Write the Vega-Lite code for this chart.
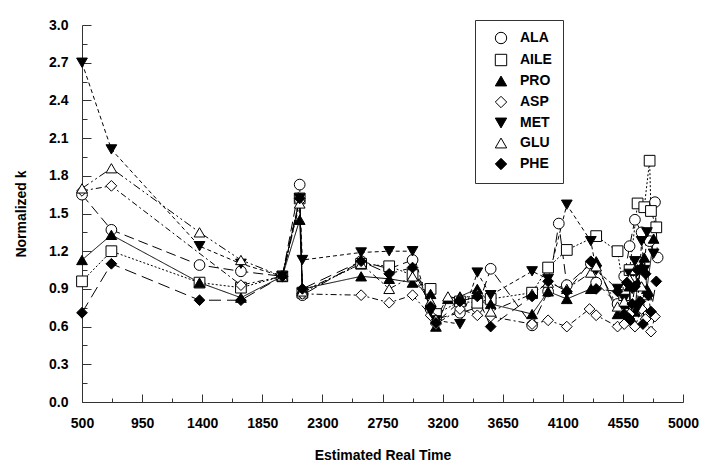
{
  "$schema": "https://vega.github.io/schema/vega-lite/v6.json",
  "width": 601,
  "height": 377,
  "autosize": {"type": "none"},
  "padding": {"left": 82, "top": 25, "right": 26, "bottom": 70},
  "background": "white",
  "config": {"view": {"stroke": null}, "font": "Liberation Sans"},
  "resolve": {"legend": {"strokeDash": "independent"}},
  "data": {"values": [
    {"s":"ALA","t":500,"k":1.65},{"s":"ALA","t":720,"k":1.37},{"s":"ALA","t":1380,"k":1.09},{"s":"ALA","t":1690,"k":1.04},{"s":"ALA","t":2000,"k":1.0},{"s":"ALA","t":2130,"k":1.73},{"s":"ALA","t":2150,"k":0.85},{"s":"ALA","t":2590,"k":1.12},{"s":"ALA","t":2800,"k":1.06},{"s":"ALA","t":2975,"k":1.13},{"s":"ALA","t":3110,"k":0.74},{"s":"ALA","t":3150,"k":0.66},{"s":"ALA","t":3330,"k":0.71},{"s":"ALA","t":3460,"k":0.75},{"s":"ALA","t":3560,"k":1.06},{"s":"ALA","t":3870,"k":0.61},{"s":"ALA","t":3990,"k":0.88},{"s":"ALA","t":4070,"k":1.42},{"s":"ALA","t":4130,"k":0.93},{"s":"ALA","t":4310,"k":1.1},{"s":"ALA","t":4350,"k":0.95},{"s":"ALA","t":4510,"k":0.78},{"s":"ALA","t":4560,"k":1.0},{"s":"ALA","t":4600,"k":1.24},{"s":"ALA","t":4640,"k":1.45},{"s":"ALA","t":4690,"k":1.35},{"s":"ALA","t":4750,"k":1.28},{"s":"ALA","t":4790,"k":1.59},{"s":"ALA","t":4810,"k":1.15},
    {"s":"AILE","t":500,"k":0.96},{"s":"AILE","t":720,"k":1.2},{"s":"AILE","t":1380,"k":0.95},{"s":"AILE","t":1690,"k":0.91},{"s":"AILE","t":2000,"k":1.0},{"s":"AILE","t":2130,"k":1.62},{"s":"AILE","t":2150,"k":0.87},{"s":"AILE","t":2590,"k":1.1},{"s":"AILE","t":2800,"k":1.08},{"s":"AILE","t":2975,"k":1.01},{"s":"AILE","t":3110,"k":0.9},{"s":"AILE","t":3150,"k":0.7},{"s":"AILE","t":3330,"k":0.8},{"s":"AILE","t":3460,"k":0.79},{"s":"AILE","t":3560,"k":0.82},{"s":"AILE","t":3870,"k":0.87},{"s":"AILE","t":3990,"k":1.07},{"s":"AILE","t":4130,"k":1.21},{"s":"AILE","t":4350,"k":1.32},{"s":"AILE","t":4510,"k":1.2},{"s":"AILE","t":4560,"k":0.85},{"s":"AILE","t":4600,"k":1.05},{"s":"AILE","t":4660,"k":1.58},{"s":"AILE","t":4710,"k":1.55},{"s":"AILE","t":4750,"k":1.92},{"s":"AILE","t":4760,"k":1.52},{"s":"AILE","t":4800,"k":1.39},
    {"s":"PRO","t":500,"k":1.13},{"s":"PRO","t":720,"k":1.33},{"s":"PRO","t":1380,"k":0.95},{"s":"PRO","t":1690,"k":0.83},{"s":"PRO","t":2000,"k":1.0},{"s":"PRO","t":2130,"k":1.45},{"s":"PRO","t":2150,"k":0.9},{"s":"PRO","t":2590,"k":1.0},{"s":"PRO","t":2800,"k":0.98},{"s":"PRO","t":2975,"k":0.95},{"s":"PRO","t":3110,"k":0.86},{"s":"PRO","t":3150,"k":0.6},{"s":"PRO","t":3240,"k":0.82},{"s":"PRO","t":3330,"k":0.84},{"s":"PRO","t":3460,"k":0.9},{"s":"PRO","t":3560,"k":0.78},{"s":"PRO","t":3870,"k":0.7},{"s":"PRO","t":3990,"k":0.88},{"s":"PRO","t":4130,"k":0.82},{"s":"PRO","t":4310,"k":0.9},{"s":"PRO","t":4350,"k":1.12},{"s":"PRO","t":4510,"k":0.7},{"s":"PRO","t":4560,"k":0.78},{"s":"PRO","t":4600,"k":0.92},{"s":"PRO","t":4620,"k":0.65},{"s":"PRO","t":4640,"k":0.72},{"s":"PRO","t":4660,"k":0.95},{"s":"PRO","t":4690,"k":1.08},{"s":"PRO","t":4710,"k":1.15},{"s":"PRO","t":4730,"k":0.9},{"s":"PRO","t":4780,"k":1.3},
    {"s":"ASP","t":500,"k":1.68},{"s":"ASP","t":720,"k":1.72},{"s":"ASP","t":1690,"k":0.93},{"s":"ASP","t":2000,"k":1.0},{"s":"ASP","t":2130,"k":1.6},{"s":"ASP","t":2150,"k":0.86},{"s":"ASP","t":2590,"k":0.85},{"s":"ASP","t":2800,"k":0.79},{"s":"ASP","t":2975,"k":0.85},{"s":"ASP","t":3110,"k":0.69},{"s":"ASP","t":3150,"k":0.62},{"s":"ASP","t":3330,"k":0.74},{"s":"ASP","t":3460,"k":0.69},{"s":"ASP","t":3560,"k":0.68},{"s":"ASP","t":3870,"k":0.62},{"s":"ASP","t":3990,"k":0.65},{"s":"ASP","t":4130,"k":0.6},{"s":"ASP","t":4300,"k":0.74},{"s":"ASP","t":4350,"k":0.69},{"s":"ASP","t":4510,"k":0.6},{"s":"ASP","t":4560,"k":0.62},{"s":"ASP","t":4600,"k":0.7},{"s":"ASP","t":4640,"k":0.6},{"s":"ASP","t":4690,"k":0.74},{"s":"ASP","t":4720,"k":0.66},{"s":"ASP","t":4760,"k":0.56},{"s":"ASP","t":4790,"k":0.68},
    {"s":"MET","t":500,"k":2.7},{"s":"MET","t":720,"k":2.01},{"s":"MET","t":1380,"k":1.24},{"s":"MET","t":1690,"k":1.1},{"s":"MET","t":2000,"k":1.0},{"s":"MET","t":2130,"k":1.62},{"s":"MET","t":2150,"k":1.13},{"s":"MET","t":2590,"k":1.19},{"s":"MET","t":2800,"k":1.2},{"s":"MET","t":2975,"k":1.2},{"s":"MET","t":3110,"k":0.72},{"s":"MET","t":3150,"k":0.65},{"s":"MET","t":3330,"k":0.62},{"s":"MET","t":3460,"k":1.03},{"s":"MET","t":3560,"k":0.85},{"s":"MET","t":3870,"k":1.04},{"s":"MET","t":3990,"k":0.98},{"s":"MET","t":4130,"k":1.57},{"s":"MET","t":4310,"k":1.28},{"s":"MET","t":4350,"k":1.05},{"s":"MET","t":4510,"k":0.9},{"s":"MET","t":4560,"k":0.82},{"s":"MET","t":4600,"k":1.02},{"s":"MET","t":4620,"k":0.9},{"s":"MET","t":4640,"k":1.12},{"s":"MET","t":4660,"k":0.75},{"s":"MET","t":4690,"k":1.28},{"s":"MET","t":4710,"k":1.05},{"s":"MET","t":4730,"k":1.35},{"s":"MET","t":4780,"k":1.18},
    {"s":"GLU","t":500,"k":1.7},{"s":"GLU","t":720,"k":1.86},{"s":"GLU","t":1380,"k":1.35},{"s":"GLU","t":1690,"k":1.13},{"s":"GLU","t":2000,"k":1.0},{"s":"GLU","t":2130,"k":1.58},{"s":"GLU","t":2150,"k":0.88},{"s":"GLU","t":2590,"k":1.1},{"s":"GLU","t":2800,"k":0.9},{"s":"GLU","t":2975,"k":1.0},{"s":"GLU","t":3110,"k":0.8},{"s":"GLU","t":3150,"k":0.66},{"s":"GLU","t":3240,"k":0.84},{"s":"GLU","t":3330,"k":0.82},{"s":"GLU","t":3460,"k":0.86},{"s":"GLU","t":3560,"k":0.72},{"s":"GLU","t":3870,"k":0.86},{"s":"GLU","t":3990,"k":0.95},{"s":"GLU","t":4130,"k":0.9},{"s":"GLU","t":4310,"k":1.03},{"s":"GLU","t":4350,"k":1.08},{"s":"GLU","t":4510,"k":0.76},{"s":"GLU","t":4560,"k":0.8},{"s":"GLU","t":4600,"k":0.98},{"s":"GLU","t":4640,"k":1.05},{"s":"GLU","t":4690,"k":0.92},{"s":"GLU","t":4730,"k":0.85},
    {"s":"PHE","t":500,"k":0.71},{"s":"PHE","t":720,"k":1.1},{"s":"PHE","t":1380,"k":0.81},{"s":"PHE","t":1690,"k":0.81},{"s":"PHE","t":2000,"k":1.0},{"s":"PHE","t":2130,"k":1.62},{"s":"PHE","t":2150,"k":0.9},{"s":"PHE","t":2590,"k":1.12},{"s":"PHE","t":2800,"k":1.02},{"s":"PHE","t":2975,"k":1.07},{"s":"PHE","t":3110,"k":0.76},{"s":"PHE","t":3150,"k":0.63},{"s":"PHE","t":3330,"k":0.8},{"s":"PHE","t":3460,"k":0.84},{"s":"PHE","t":3560,"k":0.6},{"s":"PHE","t":3870,"k":0.84},{"s":"PHE","t":3990,"k":0.96},{"s":"PHE","t":4130,"k":0.88},{"s":"PHE","t":4310,"k":1.12},{"s":"PHE","t":4350,"k":0.9},{"s":"PHE","t":4510,"k":0.88},{"s":"PHE","t":4560,"k":0.7},{"s":"PHE","t":4580,"k":0.95},{"s":"PHE","t":4600,"k":0.66},{"s":"PHE","t":4620,"k":0.78},{"s":"PHE","t":4640,"k":0.92},{"s":"PHE","t":4660,"k":1.05},{"s":"PHE","t":4680,"k":0.8},{"s":"PHE","t":4700,"k":0.62},{"s":"PHE","t":4720,"k":1.02},{"s":"PHE","t":4740,"k":0.85},{"s":"PHE","t":4760,"k":0.72},{"s":"PHE","t":4800,"k":0.96}
  ]},
  "encoding": {
    "x": {"field": "t", "type": "quantitative",
      "scale": {"domain": [500, 5000], "nice": false, "zero": false},
      "axis": {
        "values": [500,725,950,1175,1400,1625,1850,2075,2300,2525,2750,2975,3200,3425,3650,3875,4100,4325,4550,4775,5000],
        "format": "d",
        "labelExpr": "datum.value % 450 == 50 ? datum.label : ''",
        "tickSize": {"condition": {"test": "datum.value % 450 == 50", "value": -8}, "value": -4},
        "labelPadding": 22,
        "labelFontSize": 14, "labelFontWeight": "bold", "labelColor": "black", "labelFont": "Liberation Sans",
        "labelOverlap": false, "labelFlush": false, "labelBound": false,
        "grid": false, "domainColor": "#333", "tickColor": "#333", "domainWidth": 1, "tickWidth": 1,
        "title": "Estimated Real Time", "titleFontSize": 14, "titleFontWeight": "bold", "titleColor": "black", "titleFont": "Liberation Sans",
        "titlePadding": 14
      }
    },
    "y": {"field": "k", "type": "quantitative",
      "scale": {"domain": [0, 3], "nice": false, "zero": true},
      "axis": {
        "values": [0,0.15,0.3,0.45,0.6,0.75,0.9,1.05,1.2,1.35,1.5,1.65,1.8,1.95,2.1,2.25,2.4,2.55,2.7,2.85,3.0],
        "labelExpr": "round(datum.value*100) % 30 == 0 ? format(datum.value, '.1f') : ''",
        "tickSize": {"condition": {"test": "round(datum.value*100) % 30 == 0", "value": -9}, "value": -5},
        "labelPadding": 23,
        "labelFontSize": 14, "labelFontWeight": "bold", "labelColor": "black", "labelFont": "Liberation Sans",
        "labelOverlap": false, "labelFlush": false, "labelBound": false,
        "grid": false, "domainColor": "#333", "tickColor": "#333", "domainWidth": 1, "tickWidth": 1,
        "title": "Normalized k", "titleFontSize": 14, "titleFontWeight": "bold", "titleColor": "black", "titleFont": "Liberation Sans",
        "titlePadding": 20
      }
    }
  },
  "layer": [
    {
      "mark": {"type": "line", "color": "black", "strokeWidth": 1},
      "encoding": {
        "strokeDash": {"field": "s", "type": "nominal",
          "scale": {"domain": ["ALA","AILE","PRO","ASP","MET","GLU","PHE"],
                    "range": [[10,5],[2,2],[1,0],[6,3,2,3],[4,3],[8,3,2,3,2,3],[12,6]]},
          "legend": null}
      }
    },
    {
      "mark": {"type": "point", "filled": true, "strokeWidth": 1, "size": 115, "opacity": 1},
      "encoding": {
        "shape": {"field": "s", "type": "nominal",
          "scale": {"domain": ["ALA","AILE","PRO","ASP","MET","GLU","PHE"],
                    "range": ["circle","square","triangle-up","diamond","triangle-down","triangle-up","diamond"]},
          "legend": {"orient": "none", "legendX": 393, "legendY": -5, "title": null, "padding": 11,
            "strokeColor": "#333", "fillColor": "white", "labelFontSize": 14, "labelFontWeight": "bold",
            "labelFont": "Liberation Sans", "labelColor": "black", "symbolSize": 130,
            "symbolStrokeWidth": 1, "rowPadding": 6, "labelOffset": 12, "symbolOffset": 8,
            "labelExpr": "datum.label + '      '"}},
        "fill": {"field": "s", "type": "nominal",
          "scale": {"domain": ["ALA","AILE","PRO","ASP","MET","GLU","PHE"],
                    "range": ["white","white","black","white","black","white","black"]},
          "legend": {"orient": "none", "legendX": 393, "legendY": -5, "title": null, "padding": 11,
            "strokeColor": "#333", "fillColor": "white", "labelFontSize": 14, "labelFontWeight": "bold",
            "labelFont": "Liberation Sans", "labelColor": "black", "symbolSize": 130,
            "symbolStrokeWidth": 1, "rowPadding": 6, "labelOffset": 12, "symbolOffset": 8,
            "labelExpr": "datum.label + '      '"}},
        "stroke": {"field": "s", "type": "nominal",
          "scale": {"domain": ["ALA","AILE","PRO","ASP","MET","GLU","PHE"],
                    "range": ["black","black","black","black","black","black","black"]},
          "legend": {"orient": "none", "legendX": 393, "legendY": -5, "title": null, "padding": 11,
            "strokeColor": "#333", "fillColor": "white", "labelFontSize": 14, "labelFontWeight": "bold",
            "labelFont": "Liberation Sans", "labelColor": "black", "symbolSize": 130,
            "symbolStrokeWidth": 1, "rowPadding": 6, "labelOffset": 12, "symbolOffset": 8,
            "labelExpr": "datum.label + '      '"}}
      }
    }
  ]
}
